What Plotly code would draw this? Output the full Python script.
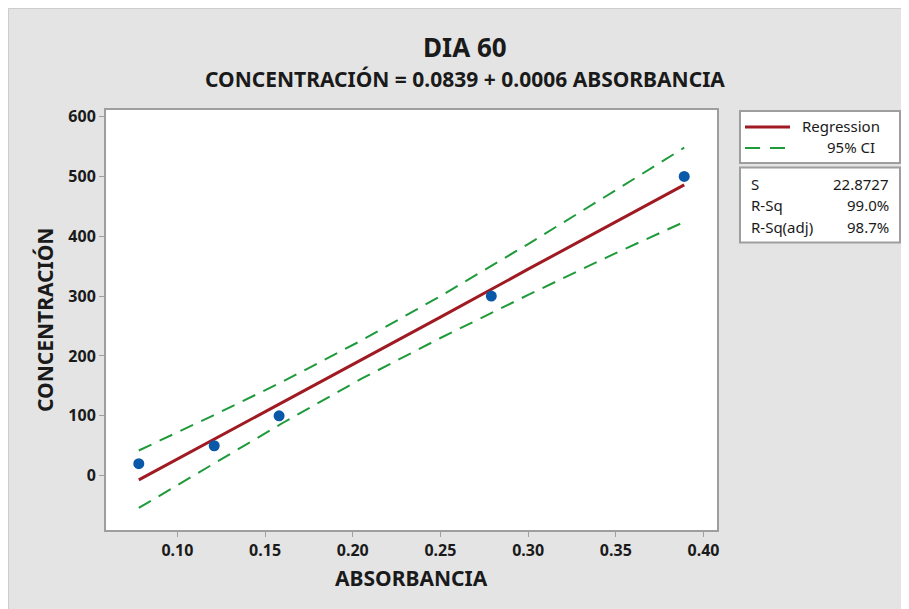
import plotly.graph_objects as go

# Data
absorbancia = [0.078, 0.121, 0.158, 0.279, 0.389]
concentracion = [20, 50, 100, 300, 500]

fit_x = [0.078, 0.16, 0.205, 0.25, 0.30, 0.389]
fit_y = [-7, 122, 194, 265, 345, 486]

ci_x = [0.078, 0.12, 0.16, 0.205, 0.25, 0.30, 0.35, 0.389]
ci_upper = [42, 100, 157, 226, 300, 387, 477, 548]
ci_lower = [-54, 18, 88, 162, 230, 302, 372, 424]

x_ticks = [0.10, 0.15, 0.20, 0.25, 0.30, 0.35, 0.40]
x_tick_labels = ["0.10", "0.15", "0.20", "0.25", "0.30", "0.35", "0.40"]
y_ticks = [0, 100, 200, 300, 400, 500, 600]

stat_names = ["S", "R-Sq", "R-Sq(adj)"]
stat_values = ["22.8727", "99.0%", "98.7%"]

W, H = 909, 609
OFF = 8  # page body margin
# plot area in screen pixels
SL, SR, ST, SB = 106, 717, 110, 530
L, R, T, B = SL - OFF, SR - OFF, ST - OFF, SB - OFF  # figure pixels


def px(x):
    return (x - SL) / (SR - SL)


def py(y):
    return (SB - y) / (SB - ST)


FONT = "Noto Sans"
TXT = "#1a1a1a"
RED = "#a01a22"
GREEN = "#1f9a3a"
BLUE = "#0a58a8"
FRAME = "#9e9e9e"

fig = go.Figure()
fig.add_trace(go.Scatter(x=ci_x, y=ci_upper, mode="lines",
                         line=dict(color=GREEN, width=2, dash="14px,9px"),
                         showlegend=False, hoverinfo="skip"))
fig.add_trace(go.Scatter(x=ci_x, y=ci_lower, mode="lines",
                         line=dict(color=GREEN, width=2, dash="14px,9px"),
                         showlegend=False, hoverinfo="skip"))
fig.add_trace(go.Scatter(x=fit_x, y=fit_y, mode="lines",
                         line=dict(color=RED, width=3),
                         showlegend=False))
fig.add_trace(go.Scatter(x=absorbancia, y=concentracion, mode="markers",
                         marker=dict(color=BLUE, size=11),
                         showlegend=False))

axis_common = dict(showgrid=False, zeroline=False, showline=True, mirror=True,
                   linecolor=FRAME, linewidth=2, ticks="outside", ticklen=5,
                   tickcolor=FRAME, tickwidth=1,
                   tickfont=dict(family=FONT, size=16, color=TXT, weight="bold"))

fig.update_layout(
    width=W, height=H,
    margin=dict(l=L, r=W - R, t=T, b=H - B),
    paper_bgcolor="#e4e4e4",
    plot_bgcolor="white",
    xaxis=dict(range=[0.0593, 0.4077], tickvals=x_ticks, ticktext=x_tick_labels,
               **axis_common),
    yaxis=dict(range=[-90.8, 611], tickvals=y_ticks, **axis_common),
)

shapes = []
# light outer border
shapes.append(dict(type="rect", xref="paper", yref="paper", x0=px(OFF + 0.5), x1=px(W + 20),
                   y0=py(H + 20), y1=py(OFF + 0.5), line=dict(color="#cdcdcd", width=1)))
# legend box
shapes.append(dict(type="rect", xref="paper", yref="paper", x0=px(740), x1=px(900),
                   y0=py(163), y1=py(111), fillcolor="white",
                   line=dict(color=FRAME, width=2)))
# stats box
shapes.append(dict(type="rect", xref="paper", yref="paper", x0=px(740), x1=px(900),
                   y0=py(242.5), y1=py(167.5), fillcolor="white",
                   line=dict(color=FRAME, width=2)))
# legend symbols
shapes.append(dict(type="line", xref="paper", yref="paper", x0=px(745), x1=px(790),
                   y0=py(127), y1=py(127), line=dict(color=RED, width=3)))
shapes.append(dict(type="line", xref="paper", yref="paper", x0=px(745), x1=px(786),
                   y0=py(148), y1=py(148), line=dict(color=GREEN, width=2, dash="15px,10px")))
fig.update_layout(shapes=shapes)

ann = []
ann.append(dict(text="DIA 60", x=px(465), y=py(47), xref="paper", yref="paper",
                showarrow=False, xanchor="center", yanchor="middle",
                font=dict(family=FONT, size=26, color=TXT, weight="bold")))
ann.append(dict(text="CONCENTRACIÓN = 0.0839 + 0.0006 ABSORBANCIA", x=px(465), y=py(79),
                xref="paper", yref="paper", showarrow=False, xanchor="center",
                yanchor="middle", font=dict(family=FONT, size=21, color=TXT, weight="bold")))
ann.append(dict(text="ABSORBANCIA", x=px(411), y=py(578), xref="paper", yref="paper",
                showarrow=False, xanchor="center", yanchor="middle",
                font=dict(family=FONT, size=21, color=TXT, weight="bold")))
ann.append(dict(text="CONCENTRACIÓN", x=px(45), y=py(320), xref="paper", yref="paper",
                showarrow=False, xanchor="center", yanchor="middle", textangle=-90,
                font=dict(family=FONT, size=21, color=TXT, weight="bold")))
ann.append(dict(text="Regression", x=px(800), y=py(126), xref="paper", yref="paper",
                showarrow=False, xanchor="left", yanchor="middle",
                font=dict(family=FONT, size=15, color=TXT)))
ann.append(dict(text="95% CI", x=px(877), y=py(147), xref="paper", yref="paper",
                showarrow=False, xanchor="right", yanchor="middle",
                font=dict(family=FONT, size=15, color=TXT)))
for name, val, yy in zip(stat_names, stat_values, [184, 205, 226.5]):
    ann.append(dict(text=name, x=px(749), y=py(yy), xref="paper", yref="paper",
                    showarrow=False, xanchor="left", yanchor="middle",
                    font=dict(family=FONT, size=15, color=TXT)))
    ann.append(dict(text=val, x=px(891), y=py(yy), xref="paper", yref="paper",
                    showarrow=False, xanchor="right", yanchor="middle",
                    font=dict(family=FONT, size=15, color=TXT)))
fig.update_layout(annotations=ann)

fig.write_html("out.html")
